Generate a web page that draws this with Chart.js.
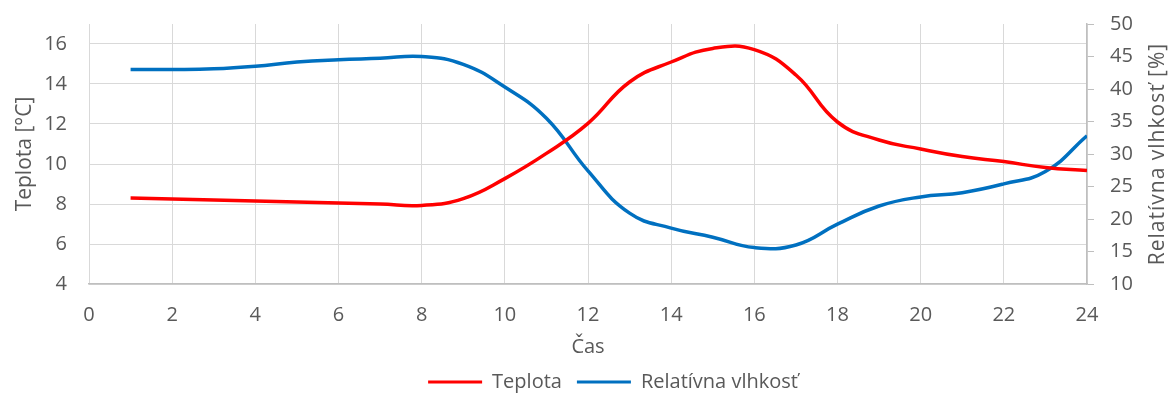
<!DOCTYPE html>
<html>
<head>
<meta charset="utf-8">
<script src="https://cdn.jsdelivr.net/npm/chart.js@4/dist/chart.umd.min.js"></script>
<style>
  html, body { margin: 0; padding: 0; background: #ffffff; }
  #wrap { width: 1172px; height: 394px; position: relative; }
</style>
</head>
<body>
<div id="wrap"><canvas id="c"></canvas></div>
<script>
// Hourly readings
const hours = [1, 2, 3, 4, 5, 6, 7, 8, 9, 10, 11, 12, 13, 14, 15, 16, 17, 18, 19, 20, 21, 22, 23, 24];
const temperature = [8.30, 8.25, 8.20, 8.15, 8.10, 8.05, 8.00, 7.93, 8.27, 9.27, 10.53, 12.03,
                     14.10, 15.10, 15.78, 15.72, 14.45, 12.10, 11.20, 10.75, 10.37, 10.12, 9.82, 9.67];
const humidity = [43.0, 43.0, 43.1, 43.5, 44.15, 44.5, 44.72, 45.0, 43.8, 40.3, 35.5, 27.4,
                  20.9, 18.6, 17.2, 15.6, 16.0, 19.2, 22.0, 23.4, 24.05, 25.4, 27.3, 32.8];

// Tick values of the temperature axis
const temperatureTicks = [4, 6, 8, 10, 12, 14, 16];

const seriesNames = ['Teplota', 'Relatívna vlhkosť'];
const axisTitles = { x: 'Čas', left: 'Teplota [°C]', right: 'Relatívna vlhkosť [%]' };

const FONT = '"Open Sans", sans-serif';
const TEXT = '#595959';
const GRID = '#d9d9d9';
const AXIS = '#bfbfbf';

const toPoints = (xs, ys) => xs.map((x, i) => ({ x, y: ys[i] }));

// Right-hand axis title reads bottom-to-top, so it is painted here.
const rightTitle = {
  id: 'rightTitle',
  afterDraw(chart) {
    const s = chart.scales.y1;
    const ctx = chart.ctx;
    ctx.save();
    ctx.translate(s.right - 14, (chart.chartArea.top + chart.chartArea.bottom) / 2);
    ctx.rotate(-Math.PI / 2);
    ctx.font = '21px ' + FONT;
    ctx.letterSpacing = '1px';
    ctx.fillStyle = TEXT;
    ctx.textAlign = 'center';
    ctx.textBaseline = 'middle';
    ctx.fillText(axisTitles.right, 0, 0);
    ctx.restore();
  }
};

// Nudge the legend row sideways.
const legendShift = {
  id: 'legendShift',
  afterLayout(chart) {
    const lg = chart.legend;
    const dx = 27;
    lg.left += dx; lg.right += dx;
  }
};

// Vertical axes: only half a label of room above and below the plot.
function trimOverhang(axis) {
  axis.paddingTop = 12;
  axis.paddingBottom = 12;
}

new Chart(document.getElementById('c'), {
  type: 'line',
  data: {
    datasets: [
      {
        label: seriesNames[0],
        data: toPoints(hours, temperature),
        yAxisID: 'y',
        borderColor: '#ff0000',
        backgroundColor: '#ff0000',
        borderWidth: 3.5,
        pointRadius: 0,
        tension: 0.45
      },
      {
        label: seriesNames[1],
        data: toPoints(hours, humidity),
        yAxisID: 'y1',
        borderColor: '#0070c0',
        backgroundColor: '#0070c0',
        borderWidth: 3.5,
        pointRadius: 0,
        tension: 0.45
      }
    ]
  },
  options: {
    responsive: true,
    maintainAspectRatio: false,
    animation: false,
    layout: { padding: { top: 24, left: 0, right: 0, bottom: -8 } },
    plugins: {
      tooltip: { enabled: false },
      legend: {
        position: 'bottom',
        labels: {
          font: { family: FONT, size: 20 },
          color: TEXT,
          boxWidth: 54,
          boxHeight: 3,
          padding: 15,
          generateLabels(chart) {
            const items = Chart.defaults.plugins.legend.labels.generateLabels(chart);
            items.forEach(it => { it.lineWidth = 0; });
            return items;
          }
        }
      }
    },
    scales: {
      x: {
        type: 'linear',
        min: 0,
        max: 24,
        ticks: { stepSize: 2, color: TEXT, font: { family: FONT, size: 20 }, padding: 19 },
        grid: { color: GRID, lineWidth: 1, drawTicks: false },
        border: { display: true, color: AXIS, width: 1.5 },
        title: { display: true, text: axisTitles.x, color: TEXT, font: { family: FONT, size: 20, lineHeight: 1 }, padding: { top: 0, bottom: 0 } },
        afterFit(axis) { axis.height = 73; }
      },
      y: {
        position: 'left',
        min: 4,
        max: 17,
        afterBuildTicks(axis) { axis.ticks = temperatureTicks.map(v => ({ value: v })); },
        ticks: { color: TEXT, font: { family: FONT, size: 20 }, padding: 22 },
        grid: { color: GRID, lineWidth: 1, drawTicks: false },
        border: { display: false },
        title: { display: true, text: axisTitles.left, color: TEXT, font: { family: FONT, size: 21 }, padding: { top: 12, bottom: 0 } },
        afterFit(axis) { axis.width = 89; trimOverhang(axis); }
      },
      y1: {
        position: 'right',
        min: 10,
        max: 50,
        ticks: { stepSize: 5, color: TEXT, font: { family: FONT, size: 20 }, padding: 16 },
        grid: { drawOnChartArea: false, drawTicks: true, tickLength: 7, color: AXIS, lineWidth: 1 },
        border: { display: true, color: AXIS, width: 1.5 },
        afterFit(axis) { axis.width = 85; trimOverhang(axis); }
      }
    }
  },
  plugins: [rightTitle, legendShift]
});
</script>
</body>
</html>
